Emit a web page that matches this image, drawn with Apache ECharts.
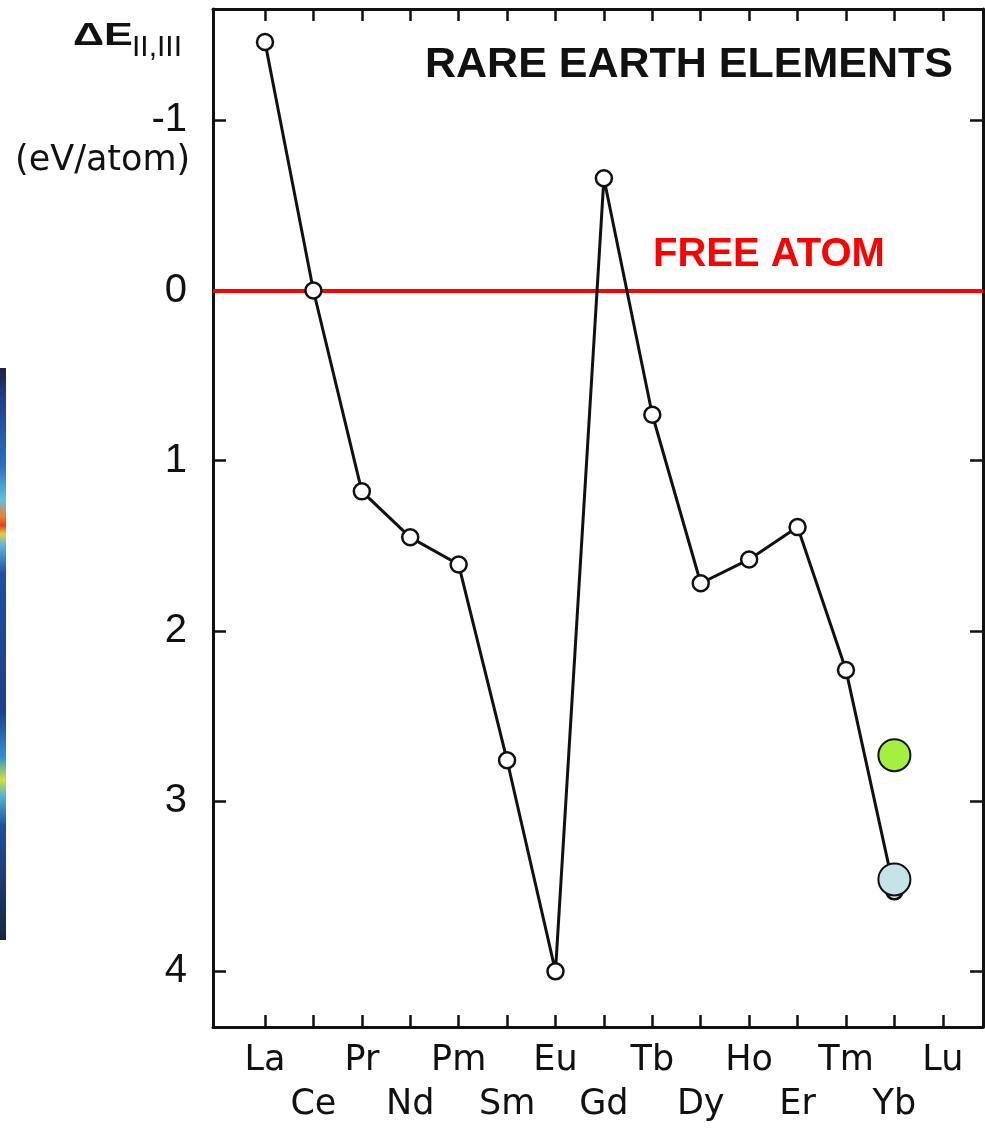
<!DOCTYPE html>
<html>
<head>
<meta charset="utf-8">
<script src="https://cdn.jsdelivr.net/npm/echarts@6/dist/echarts.min.js"></script>
<style>html,body{margin:0;padding:0;background:#fff;}#c{width:985px;height:1128px;}</style>
</head>
<body>
<div id="c"></div>
<script>
// Data
var elements = ['La','Ce','Pr','Nd','Pm','Sm','Eu','Gd','Tb','Dy','Ho','Er','Tm','Yb','Lu'];
var deltaE = [-1.46, 0.0, 1.18, 1.45, 1.61, 2.76, 4.0, -0.66, 0.73, 1.72, 1.58, 1.39, 2.23, 3.53];
var greenPoint = [13, 2.73];
var bluePoint = [13, 3.46];
var yTicks = [-1, 0, 1, 2, 3, 4];
var freeAtomLevel = 0;

var xIdx = elements.map(function (_, i) { return i; });
var lineData = deltaE.map(function (v, i) { return [i, v]; });

var chart = echarts.init(document.getElementById('c'), null, { renderer: 'canvas' });

var axisLine = { show: true, onZero: false, lineStyle: { color: '#111', width: 3 } };
var xTick = { show: true, inside: true, length: 12, lineStyle: { color: '#111', width: 2.5 }, customValues: xIdx };
var yTick = { show: true, inside: true, length: 13, lineStyle: { color: '#111', width: 2.5 }, customValues: yTicks };

chart.setOption({
  animation: false,
  backgroundColor: '#fff',
  grid: { left: 213, right: 2, top: 9, bottom: 101 },
  xAxis: [{
    type: 'value', position: 'bottom', min: -1.074, max: 14.83,
    axisLine: axisLine, axisTick: xTick, splitLine: { show: false },
    axisLabel: {
      show: true, customValues: xIdx, margin: 12,
      fontFamily: 'DejaVu Sans', fontSize: 35, color: '#111', lineHeight: 44,
      formatter: function (v) {
        var i = Math.round(v);
        return (i % 2 === 1 ? '\n' : '') + elements[i];
      }
    }
  }, {
    type: 'value', position: 'top', min: -1.074, max: 14.83,
    axisLine: axisLine, axisTick: xTick, splitLine: { show: false }, axisLabel: { show: false }
  }],
  yAxis: [{
    type: 'value', position: 'left', inverse: true, min: -1.654, max: 4.327,
    axisLine: axisLine, axisTick: yTick, splitLine: { show: false },
    axisLabel: {
      show: true, customValues: yTicks, margin: 26,
      fontFamily: 'Liberation Sans', fontSize: 40, color: '#111'
    }
  }, {
    type: 'value', position: 'right', inverse: true, min: -1.654, max: 4.327,
    axisLine: axisLine, axisTick: yTick, splitLine: { show: false }, axisLabel: { show: false }
  }],
  series: [{
    type: 'line', xAxisIndex: 0, yAxisIndex: 0, z: 3,
    data: lineData,
    lineStyle: { color: '#111', width: 3 },
    symbol: 'circle', symbolSize: 16,
    itemStyle: { color: '#fff', borderColor: '#111', borderWidth: 2.5 },
    markLine: {
      silent: true, symbol: 'none', z: 2,
      label: { show: false },
      lineStyle: { color: '#ff0000', width: 4, type: 'solid' },
      data: [{ yAxis: freeAtomLevel }]
    }
  }, {
    type: 'scatter', z: 5,
    data: [greenPoint], symbolSize: 32,
    itemStyle: { color: '#a3f040', borderColor: '#111', borderWidth: 2, opacity: 1 }
  }, {
    type: 'scatter', z: 5,
    data: [bluePoint], symbolSize: 32,
    itemStyle: { color: '#c6e3e7', borderColor: '#111', borderWidth: 2, opacity: 1 }
  }],
  graphic: [
    { type: 'text', left: 425, top: 44, z: 10,
      style: { text: 'RARE EARTH ELEMENTS', font: 'bold 43px "Liberation Sans"', fill: '#111' } },
    { type: 'text', left: 653, top: 235, z: 10,
      style: { text: 'FREE ATOM', font: 'bold 40px "Liberation Sans"', fill: '#ff0000' } },
    { type: 'text', x: 73, y: 20, scaleX: 1.35, z: 10,
      style: { text: 'ΔE', font: 'bold 32px "Liberation Sans"', fill: '#111', verticalAlign: 'top' } },
    { type: 'text', x: 132, y: 33, z: 10,
      style: { text: 'II,III', font: '30px "Liberation Sans"', fill: '#111', verticalAlign: 'top' } },
    { type: 'text', left: 15, top: 143, z: 10,
      style: { text: '(eV/atom)', font: '35px "DejaVu Sans"', fill: '#111' } },
    { type: 'rect', left: 0, top: 368, z: 10,
      shape: { width: 6, height: 572 },
      style: {
        fill: new echarts.graphic.LinearGradient(0, 0, 0, 1, [
          { offset: 0, color: '#1c2440' },
          { offset: 0.05, color: '#1f3f8a' },
          { offset: 0.17, color: '#2a6fc0' },
          { offset: 0.23, color: '#5fc0e0' },
          { offset: 0.26, color: '#f08030' },
          { offset: 0.275, color: '#e04020' },
          { offset: 0.29, color: '#e0d040' },
          { offset: 0.31, color: '#60b0e0' },
          { offset: 0.36, color: '#2050a0' },
          { offset: 0.6, color: '#1f3f8a' },
          { offset: 0.68, color: '#3090d0' },
          { offset: 0.72, color: '#d0e040' },
          { offset: 0.75, color: '#50b0d0' },
          { offset: 0.8, color: '#2050a0' },
          { offset: 1, color: '#1c2440' }
        ])
      } }
  ]
});
</script>
</body>
</html>
